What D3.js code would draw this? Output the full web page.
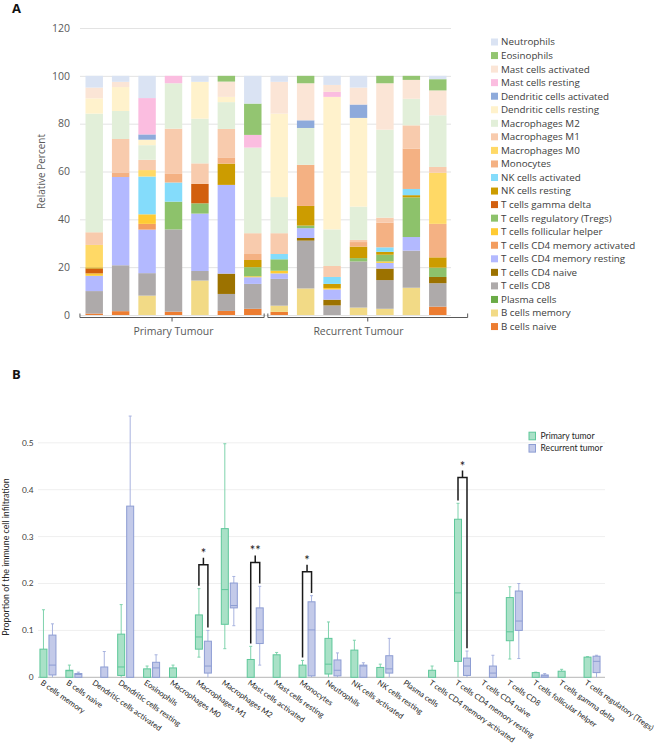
<!DOCTYPE html>
<html><head><meta charset="utf-8">
<script src="https://cdn.jsdelivr.net/npm/d3@7"></script>
<style>body{margin:0;background:#fff;} svg{display:block;font-family:"Open Sans",sans-serif;}</style>
</head><body>
<svg id="chart" width="669" height="746"></svg>
<script>
// ---------------- Panel A data ----------------
const samples = ["P1","P2","P3","P4","P5","P6","P7","R1","R2","R3","R4","R5","R6","R7"];
const sampleGroup = ["Primary Tumour","Primary Tumour","Primary Tumour","Primary Tumour","Primary Tumour","Primary Tumour","Primary Tumour",
  "Recurrent Tumour","Recurrent Tumour","Recurrent Tumour","Recurrent Tumour","Recurrent Tumour","Recurrent Tumour","Recurrent Tumour"];
const groupsA = ["Primary Tumour","Recurrent Tumour"];
const yTicksA = [0,20,40,60,80,100,120];
// stacking order, bottom to top
const cellTypesA = ["B cells naive","B cells memory","Plasma cells","T cells CD8","T cells CD4 naive","T cells CD4 memory resting",
  "T cells CD4 memory activated","T cells follicular helper","T cells regulatory (Tregs)","T cells gamma delta","NK cells resting",
  "NK cells activated","Monocytes","Macrophages M0","Macrophages M1","Macrophages M2","Dendritic cells resting",
  "Dendritic cells activated","Mast cells resting","Mast cells activated","Eosinophils","Neutrophils"];
const bNaive    = [0.6,1.6,0,1.4,0,1.7,2.6,1.3,0,0,0,0,0,3.5];
const bMemory   = [0,0,8.1,0,14.4,0,0,2.6,11.1,0,3.1,2.6,11.4,0];
const plasma    = [0,0,0,0,0,0,0,0,0,0,0,0,0,0];
const cd8       = [9.4,19.2,9.4,34.4,4.0,7.1,10.4,11.2,20.0,4.0,19.3,12.0,15.5,9.8];
const cd4Naive  = [0,0,0,0,0,8.5,0,0,1.1,2.4,0,4.8,0,2.6];
const cd4MemRest= [6.4,36.9,18.2,0,24.0,37.1,2.8,2.3,4.1,4.3,0,2.4,5.7,0];
const cd4MemAct = [0,0,2.4,0,0,0,0,0,0,0,0,0,0,0];
const tfh       = [1.0,0,4.0,0,0,0,0.4,1.1,0,0.6,0,0.6,0,0];
const tregs     = [0,0,0,11.6,4.3,0,3.8,4.8,1.1,0,1.4,2.8,16.6,3.9];
const tgd       = [2.0,0,0,0,8.1,0,0,0,0,0,0,0,0,0];
const nkRest    = [0.5,0,0,0,0,8.9,3.0,0,8.2,1.7,4.8,1.2,0.9,4.3];
const nkAct     = [0,0,15.8,8.0,0,0,0,2.2,0,2.9,0,1.9,2.6,0];
const monocytes = [0,1.9,0,3.8,0,2.6,2.5,0,17.2,0,1.9,10.3,16.9,14.0];
const macM0     = [9.4,0,2.7,0,0,0,0,0,0,0,0,0,0,21.4];
const macM1     = [5.3,14.0,4.3,18.7,8.6,11.9,8.7,8.7,0,4.6,0.9,2.1,9.7,2.4];
const macM2     = [49.6,11.7,6.1,19.0,18.7,11.2,35.8,15.1,15.4,15.3,13.9,36.8,11.1,21.6];
const dcRest    = [6.4,10.0,2.3,0,15.4,2.2,0,34.9,0,55.4,37.1,0,0,0];
const dcAct     = [0,0,2.2,0,0,0,0,0,3.2,0,5.6,0,0,0];
const mastRest  = [0,0,15.2,3.1,0,0,5.3,0,0,2.1,0,0,0,0];
const mastAct   = [4.5,2.2,0,0,0,6.4,0,13.3,15.5,2.9,7.1,19.4,7.9,10.4];
const eosin     = [0,0,0,0,0,2.4,13.1,0,3.1,0,0,3.1,1.7,4.7];
const neutro    = [4.9,2.5,9.3,0,2.5,0,11.6,2.5,0,3.8,4.9,0,0,1.4];
const seriesA = [bNaive,bMemory,plasma,cd8,cd4Naive,cd4MemRest,cd4MemAct,tfh,tregs,tgd,nkRest,nkAct,monocytes,
  macM0,macM1,macM2,dcRest,dcAct,mastRest,mastAct,eosin,neutro];

// ---------------- Panel B data ----------------
const categoriesB = ["B cells memory","B cells naive","Dendritic cells activated","Dendritic cells resting","Eosinophils",
  "Macrophages M0","Macrophages M1","Macrophages M2","Mast cells activated","Mast cells resting","Monocytes","Neutrophils",
  "NK cells activated","NK cells resting","Plasma cells","T cells CD4 memory activated","T cells CD4 memory resting",
  "T cells CD4 naive","T cells CD8","T cells follicular helper","T cells gamma delta","T cells regulatory (Tregs)"];
const groupsB = ["Primary tumor","Recurrent tumor"];
const yTicksB = [0,0.1,0.2,0.3,0.4,0.5];
// [min, q1, median, q3, max]
const primaryStats = [
  [0,0,0,0.06,0.144],[0,0,0.014,0.015,0.026],[0,0,0,0,0],[0,0.004,0.022,0.092,0.155],[0,0,0,0.018,0.024],
  [0,0,0,0.02,0.026],[0.043,0.06,0.086,0.133,0.189],[0.061,0.113,0.187,0.317,0.498],[0,0,0,0.038,0.066],
  [0,0,0,0.048,0.053],[0,0,0,0.026,0.036],[0,0.007,0.028,0.083,0.118],[0,0,0,0.058,0.079],[0,0,0,0.021,0.028],
  [0,0,0,0,0],[0,0,0,0.015,0.024],[0,0.034,0.18,0.337,0.371],[0,0,0,0,0],[0.039,0.078,0.097,0.17,0.193],
  [0,0,0,0.01,0.011],[0,0,0,0.013,0.017],[0,0,0,0.043,0.044]];
const recurrentStats = [
  [0,0.005,0.026,0.09,0.114],[0,0,0.006,0.008,0.011],[0,0,0,0.022,0.055],[0,0,0,0.365,0.557],[0,0,0.02,0.032,0.048],
  [0,0,0,0,0],[0,0.009,0.024,0.077,0.1],[0.11,0.148,0.153,0.201,0.215],[0.026,0.072,0.101,0.148,0.194],
  [0,0,0,0,0],[0,0.003,0.101,0.161,0.174],[0,0.003,0.015,0.037,0.052],[0,0,0.024,0.026,0.031],[0,0.009,0.018,0.046,0.083],
  [0,0,0,0,0],[0,0,0,0,0],[0,0.004,0.024,0.041,0.056],[0,0,0.009,0.024,0.047],[0.04,0.1,0.12,0.184,0.2],
  [0,0,0.003,0.005,0.008],[0,0,0,0,0],[0,0.01,0.034,0.045,0.047]];
const sigCats   = ["Macrophages M1","Mast cells activated","Monocytes","T cells CD4 memory resting"];
const sigLabels = ["*","**","*","*"];
const sigTops   = [0.24,0.245,0.225,0.426];

// ---------------- styles ----------------
const colorA = {
  "Neutrophils":"#dae3f3","Eosinophils":"#93c571","Mast cells activated":"#fbe5d6","Mast cells resting":"#fbbde0",
  "Dendritic cells activated":"#8eaadb","Dendritic cells resting":"#fff2cc","Macrophages M2":"#e2efd9",
  "Macrophages M1":"#f8cbad","Macrophages M0":"#ffd966","Monocytes":"#f4b183","NK cells activated":"#84dcfb",
  "NK cells resting":"#cc9c00","T cells gamma delta":"#d2600f","T cells regulatory (Tregs)":"#8dc26b",
  "T cells follicular helper":"#ffcb33","T cells CD4 memory activated":"#f39d5f","T cells CD4 memory resting":"#b3b9ff",
  "T cells CD4 naive":"#9c7200","T cells CD8":"#aeaaaa","Plasma cells":"#6aab46","B cells memory":"#f2da86","B cells naive":"#ed7d31"};
const boxStroke = {"Primary tumor":"#5ec79a","Recurrent tumor":"#8d9dd3"};
const boxFill = {"Primary tumor":"#a9e1c7","Recurrent tumor":"#c3cae9"};
const whiskerCol = {"Primary tumor":"#7fd3ad","Recurrent tumor":"#a8b3df"};
const fontB = "Lato, 'Open Sans', sans-serif";

const svg = d3.select("#chart");

// ================= PANEL A =================
const gA = svg.append("g");
gA.append("text").attr("x",12).attr("y",13).attr("font-size",13).attr("font-weight","bold").attr("fill","#111").text("A");

const xA = d3.scaleBand().domain(samples).range([81,451]).paddingInner(0.34).paddingOuter(0.17);
const yA = d3.scaleLinear().domain([0,120]).range([315,28]);

gA.append("g").selectAll("line").data(yTicksA).join("line")
  .attr("x1",80).attr("x2",451).attr("y1",d=>yA(d)+0.5).attr("y2",d=>yA(d)+0.5)
  .attr("stroke","#e3e3e3").attr("stroke-width",1);
gA.append("g").selectAll("text").data(yTicksA).join("text")
  .attr("x",70).attr("y",d=>yA(d)).attr("dy","0.35em").attr("text-anchor","end")
  .attr("font-size",10.5).attr("fill","#595959").text(d=>d);
gA.append("text").attr("transform",`translate(45,${yA(60)}) rotate(-90)`).attr("text-anchor","middle")
  .attr("font-size",10).attr("fill","#595959").text("Relative Percent");

const rowsA = samples.map((s,i)=>{const r={sample:s}; cellTypesA.forEach((c,k)=>r[c]=seriesA[k][i]); return r;});
const stackA = d3.stack().keys(cellTypesA)(rowsA);
gA.append("g").selectAll("g").data(stackA).join("g").attr("fill",d=>colorA[d.key])
  .selectAll("rect").data(d=>d).join("rect")
  .attr("x",d=>xA(d.data.sample)).attr("width",xA.bandwidth())
  .attr("y",d=>yA(d[1])).attr("height",d=>Math.max(0,yA(d[0])-yA(d[1])));

// group axis brackets
const bw = xA.bandwidth(), stp = xA.step();
const axY = yA(0)+2.5;
groupsA.forEach((g,gi)=>{
  const idx = samples.map((s,i)=>i).filter(i=>sampleGroup[i]===g);
  const first = xA(samples[idx[0]]), last = xA(samples[idx[idx.length-1]])+bw;
  const x0 = gi===0 ? first - stp*0.21 : first - stp*0.1;
  const x1 = gi===0 ? last + stp*0.1 : last + stp*0.8;
  const ax = gA.append("g").attr("stroke","#595959").attr("stroke-width",1).attr("fill","none");
  ax.append("path").attr("d",`M${x0},${axY-4}V${axY}H${x1}V${axY-4}`);
  const cm = (x0+x1)/2;
  ax.append("line").attr("x1",cm).attr("x2",cm).attr("y1",axY).attr("y2",axY+4);
  gA.append("text").attr("x",(first+last)/2).attr("y",axY+17).attr("text-anchor","middle")
    .attr("font-size",10.5).attr("fill","#595959").text(g);
});

// legend A (top to bottom reverse of stack)
const legA = gA.append("g");
cellTypesA.slice().reverse().forEach((c,i)=>{
  const y = 42 + i*13.55;
  legA.append("rect").attr("x",491).attr("y",y-3.5).attr("width",7).attr("height",7).attr("fill",colorA[c]);
  legA.append("text").attr("x",501).attr("y",y).attr("dy","0.35em").attr("font-size",9.8).attr("fill","#404040").text(c);
});

// ================= PANEL B =================
const gB = svg.append("g").attr("font-family",fontB);
gB.append("text").attr("x",12).attr("y",379).attr("font-size",13).attr("font-weight","bold").attr("fill","#111")
  .attr("font-family","'Open Sans', sans-serif").text("B");

const xB = d3.scaleBand().domain(categoriesB).range([35,605]);
const xSub = d3.scaleBand().domain(groupsB).range([-8,8]).paddingInner(0.222);
const yB = d3.scaleLinear().domain([0,0.5]).range([677.3,442.8]);

gB.append("g").selectAll("line").data(yTicksB.filter(d=>d>0)).join("line")
  .attr("x1",38).attr("x2",605).attr("y1",d=>yB(d)).attr("y2",d=>yB(d))
  .attr("stroke","#efefef").attr("stroke-width",1);
gB.append("line").attr("x1",38).attr("x2",605).attr("y1",yB(0)).attr("y2",yB(0)).attr("stroke","#c4c4c4").attr("stroke-width",1.2);
gB.append("g").selectAll("text").data(yTicksB).join("text")
  .attr("x",33.5).attr("y",d=>yB(d)).attr("dy","0.35em").attr("text-anchor","end")
  .attr("font-size",8.3).attr("fill","#404040").text(d=>d===0?"0":d3.format(".1f")(d));
gB.append("text").attr("transform",`translate(9,557) rotate(-90)`).attr("text-anchor","middle")
  .attr("font-size",8.8).attr("fill","#262626").text("Proportion of the immune cell infiltration");

// boxes
const statsByGroup = {"Primary tumor":primaryStats,"Recurrent tumor":recurrentStats};
const boxData = [];
categoriesB.forEach((c,i)=>groupsB.forEach(g=>boxData.push({cat:c,grp:g,s:statsByGroup[g][i]})));
const boxes = gB.append("g").selectAll("g").data(boxData).join("g")
  .attr("transform",d=>`translate(${xB(d.cat)+xB.bandwidth()/2+xSub(d.grp)},0)`);
const bwB = xSub.bandwidth();
boxes.append("line").attr("x1",bwB/2).attr("x2",bwB/2).attr("y1",d=>yB(d.s[4])).attr("y2",d=>yB(d.s[3]))
  .attr("stroke",d=>whiskerCol[d.grp]).attr("stroke-width",1);
boxes.append("line").attr("x1",bwB/2).attr("x2",bwB/2).attr("y1",d=>yB(d.s[1])).attr("y2",d=>yB(d.s[0]))
  .attr("stroke",d=>whiskerCol[d.grp]).attr("stroke-width",1);
boxes.filter(d=>d.s[4]>d.s[3]).append("line").attr("x1",bwB/2-1.5).attr("x2",bwB/2+1.5).attr("y1",d=>yB(d.s[4])).attr("y2",d=>yB(d.s[4]))
  .attr("stroke",d=>whiskerCol[d.grp]).attr("stroke-width",1);
boxes.filter(d=>d.s[0]<d.s[1]&&d.s[0]>0).append("line").attr("x1",bwB/2-1.5).attr("x2",bwB/2+1.5).attr("y1",d=>yB(d.s[0])).attr("y2",d=>yB(d.s[0]))
  .attr("stroke",d=>whiskerCol[d.grp]).attr("stroke-width",1);
boxes.append("rect").attr("x",0).attr("width",bwB).attr("y",d=>yB(d.s[3])).attr("height",d=>yB(d.s[1])-yB(d.s[3]))
  .attr("fill",d=>boxFill[d.grp]).attr("stroke",d=>boxStroke[d.grp]).attr("stroke-width",1);
boxes.filter(d=>d.s[2]>0).append("line").attr("x1",0).attr("x2",bwB).attr("y1",d=>yB(d.s[2])).attr("y2",d=>yB(d.s[2]))
  .attr("stroke",d=>boxStroke[d.grp]).attr("stroke-width",1);

// significance brackets
sigCats.forEach((c,k)=>{
  const i = categoriesB.indexOf(c);
  const cx = xB(c)+xB.bandwidth()/2;
  const xl = cx + xSub(groupsB[0]) + bwB/2, xr = cx + xSub(groupsB[1]) + bwB/2;
  const yl = yB(primaryStats[i][4]+0.006), yr = yB(recurrentStats[i][4]+0.006), yt = yB(sigTops[k]);
  gB.append("path").attr("d",`M${xl},${yl}V${yt}H${xr}V${yr}M${(xl+xr)/2},${yt}V${yt-7}`)
    .attr("fill","none").attr("stroke","#1a1a1a").attr("stroke-width",1.5);
  gB.append("text").attr("x",(xl+xr)/2).attr("y",yt-7).attr("text-anchor","middle")
    .attr("font-size",13).attr("fill","#1a1a1a").text(sigLabels[k]);
});

// x labels
gB.append("g").selectAll("text").data(categoriesB).join("text")
  .attr("transform",d=>`translate(${xB(d)+xB.bandwidth()/2-8},${684}) rotate(35)`)
  .attr("font-size",7.8).attr("fill","#262626").text(d=>d);

// legend B
groupsB.forEach((g,i)=>{
  const y = 436 + i*12.3;
  gB.append("rect").attr("x",529).attr("y",y-3.8).attr("width",6.5).attr("height",7.6)
    .attr("fill",boxFill[g]).attr("stroke",boxStroke[g]).attr("stroke-width",1);
  gB.append("text").attr("x",540.5).attr("y",y).attr("dy","0.35em").attr("font-size",8.6).attr("fill","#262626").text(g);
});
</script>
</body></html>
